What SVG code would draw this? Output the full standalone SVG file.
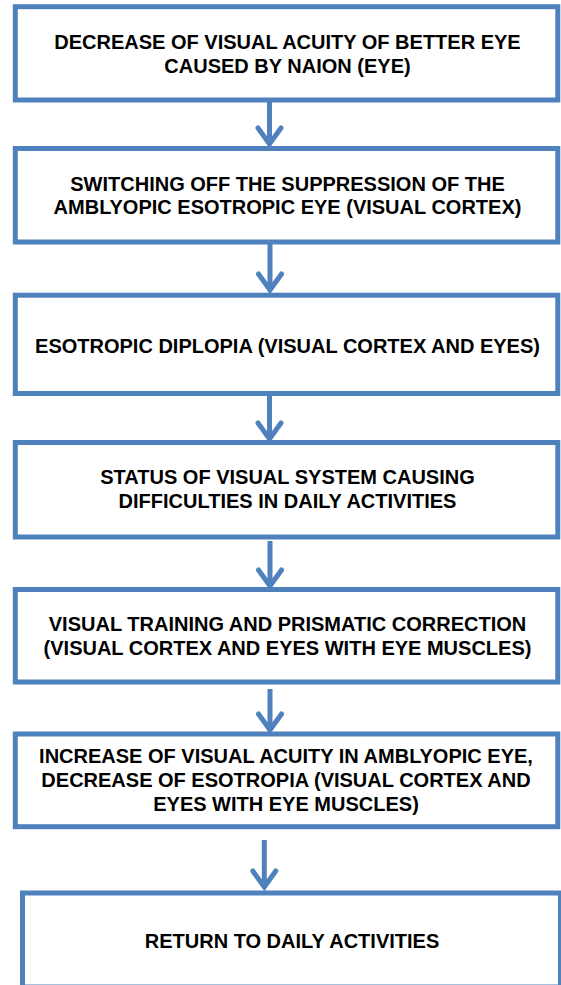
<svg xmlns="http://www.w3.org/2000/svg" width="561" height="985" viewBox="0 0 561 985">
<style>
.box{fill:#fff;stroke:#4F81BD;stroke-width:5}
.t{font-family:"Liberation Sans",Arial,sans-serif;font-weight:bold;font-size:20px;fill:#000;text-anchor:middle}
.sh{stroke:#4F81BD;stroke-width:5;fill:none}
.hd{stroke:#4F81BD;stroke-width:5;fill:none;stroke-linecap:round;stroke-linejoin:miter}
</style>
<rect width="561" height="985" fill="#fff"/>
<g id="connectors">
<line class="sh" x1="269.5" y1="100" x2="269.5" y2="143"/>
<polyline class="hd" points="258,128 269.5,144 281,128"/>
<line class="sh" x1="270" y1="242" x2="270" y2="289"/>
<polyline class="hd" points="258.5,274 270,290 281.5,274"/>
<line class="sh" x1="269.5" y1="396" x2="269.5" y2="438"/>
<polyline class="hd" points="258,423 269.5,439 281,423"/>
<line class="sh" x1="270" y1="541" x2="270" y2="585"/>
<polyline class="hd" points="258.5,570 270,586 281.5,570"/>
<line class="sh" x1="270" y1="689" x2="270" y2="729"/>
<polyline class="hd" points="258.5,714 270,730 281.5,714"/>
<line class="sh" x1="264.3" y1="840" x2="264.3" y2="886"/>
<polyline class="hd" points="252.8,871 264.3,887 275.8,871"/>
</g>
<g id="n1">
<rect class="box" x="15.3" y="6.7" width="542.5" height="93.3"/>
<text class="t" x="287.5" y="49">DECREASE OF VISUAL ACUITY OF BETTER EYE</text>
<text class="t" x="287.5" y="73.3">CAUSED BY NAION (EYE)</text>
</g>
<g id="n2">
<rect class="box" x="15.3" y="148.5" width="542.5" height="93.5"/>
<text class="t" x="287.5" y="190.7">SWITCHING OFF THE SUPPRESSION OF THE</text>
<text class="t" x="287.5" y="214">AMBLYOPIC ESOTROPIC EYE (VISUAL CORTEX)</text>
</g>
<g id="n3">
<rect class="box" x="15.3" y="295.2" width="542.5" height="98.3"/>
<text class="t" x="287.5" y="353">ESOTROPIC DIPLOPIA (VISUAL CORTEX AND EYES)</text>
</g>
<g id="n4">
<rect class="box" x="15.3" y="442.5" width="542.5" height="94.5"/>
<text class="t" x="287.5" y="484.3">STATUS OF VISUAL SYSTEM CAUSING</text>
<text class="t" x="287.5" y="507.5">DIFFICULTIES IN DAILY ACTIVITIES</text>
</g>
<g id="n5">
<rect class="box" x="15.3" y="589.5" width="542.5" height="92.5"/>
<text class="t" x="287.5" y="631">VISUAL TRAINING AND PRISMATIC CORRECTION</text>
<text class="t" x="287.5" y="655">(VISUAL CORTEX AND EYES WITH EYE MUSCLES)</text>
</g>
<g id="n6">
<rect class="box" x="15.3" y="734" width="542.5" height="92.7"/>
<text class="t" x="286" y="763.3">INCREASE OF VISUAL ACUITY IN AMBLYOPIC EYE,</text>
<text class="t" x="286" y="787.3">DECREASE OF ESOTROPIA (VISUAL CORTEX AND</text>
<text class="t" x="286" y="811.3">EYES WITH EYE MUSCLES)</text>
</g>
<g id="n7">
<rect class="box" x="22.5" y="893" width="538" height="94"/>
<text class="t" x="292" y="947.7">RETURN TO DAILY ACTIVITIES</text>
</g>
</svg>
